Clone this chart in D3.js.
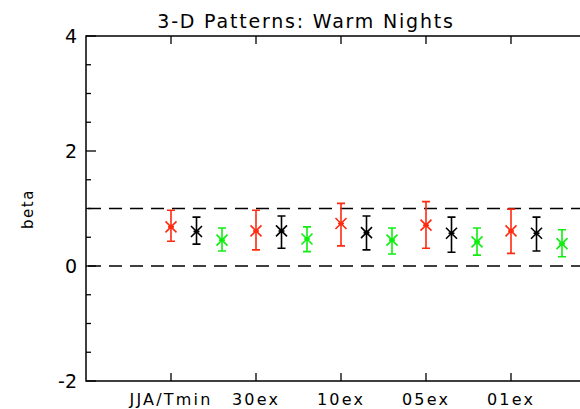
<!DOCTYPE html>
<meta charset="utf-8">
<script src="https://d3js.org/d3.v7.min.js"></script>
<style>
  body { margin: 0; background: #fff; }
  text { font-family: "DejaVu Sans", sans-serif; fill: #000; }
</style>
<svg id="chart" width="580" height="409"></svg>
<script>
  // categories along the bottom
  var groups = ["JJA/Tmin", "30ex", "10ex", "05ex", "01ex"];
  // three series per group (red, black, green), value with low/high bounds
  var redMid = [0.68, 0.61, 0.74, 0.71, 0.61];
  var redLo = [0.43, 0.28, 0.35, 0.31, 0.22];
  var redHi = [0.97, 0.97, 1.09, 1.12, 0.99];
  var blackMid = [0.60, 0.61, 0.58, 0.57, 0.57];
  var blackLo = [0.38, 0.31, 0.28, 0.24, 0.26];
  var blackHi = [0.85, 0.87, 0.87, 0.85, 0.85];
  var greenMid = [0.45, 0.47, 0.45, 0.42, 0.39];
  var greenLo = [0.26, 0.25, 0.21, 0.19, 0.16];
  var greenHi = [0.66, 0.68, 0.66, 0.66, 0.63];
  var yMajor = [-2, 0, 2, 4];
  var yMinor = [-1.5, -1, -0.5, 0.5, 1, 1.5, 2.5, 3, 3.5];
  var refLines = [0, 1];

  var svg = d3.select("#chart");
  var pLeft = 86, pTop = 36, pBottom = 381, pRight = 596;

  var x = d3.scaleLinear().domain([0, 6]).range([pLeft, pRight]);
  var y = d3.scaleLinear().domain([-2, 4]).range([pBottom, pTop]);

  // title
  svg.append("text")
    .attr("x", 306).attr("y", 28)
    .attr("text-anchor", "middle")
    .style("font-size", "19px")
    .style("letter-spacing", "1.8px")
    .text("3-D Patterns: Warm Nights");

  // y axis label
  svg.append("text")
    .attr("transform", "translate(33,209) rotate(-90)")
    .attr("text-anchor", "middle")
    .style("font-size", "15px")
    .style("letter-spacing", "1.5px")
    .text("beta");

  var g = svg.append("g");

  // dashed reference lines
  g.selectAll(".ref")
    .data(refLines)
    .enter()
    .append("line")
    .attr("x1", pLeft + 2).attr("x2", pRight)
    .attr("y1", d => y(d)).attr("y2", d => y(d))
    .attr("stroke", "#000")
    .attr("stroke-width", 1.5)
    .attr("stroke-dasharray", "13,8");

  // frame
  g.append("path")
    .attr("d", "M" + pRight + "," + pTop + "H" + pLeft + "V" + pBottom + "H" + pRight)
    .attr("fill", "none")
    .attr("stroke", "#000")
    .attr("stroke-width", 1.5);

  // y ticks
  g.selectAll(".ymaj")
    .data(yMajor)
    .enter()
    .append("line")
    .attr("x1", pLeft).attr("x2", pLeft + 10)
    .attr("y1", d => y(d)).attr("y2", d => y(d))
    .attr("stroke", "#000").attr("stroke-width", 1.3);
  g.selectAll(".ymin")
    .data(yMinor)
    .enter()
    .append("line")
    .attr("x1", pLeft).attr("x2", pLeft + 5)
    .attr("y1", d => y(d)).attr("y2", d => y(d))
    .attr("stroke", "#000").attr("stroke-width", 1.3);
  g.selectAll(".ylab")
    .data(yMajor)
    .enter()
    .append("text")
    .attr("x", pLeft - 9)
    .attr("y", d => y(d) + 7)
    .attr("text-anchor", "end")
    .style("font-size", "19px")
    .text(d => d);

  // x ticks top and bottom
  var gi = d3.range(groups.length);
  g.selectAll(".xtb")
    .data(gi)
    .enter()
    .append("line")
    .attr("x1", d => x(d + 1)).attr("x2", d => x(d + 1))
    .attr("y1", pBottom).attr("y2", pBottom - 8)
    .attr("stroke", "#000").attr("stroke-width", 1.3);
  g.selectAll(".xtt")
    .data(gi)
    .enter()
    .append("line")
    .attr("x1", d => x(d + 1)).attr("x2", d => x(d + 1))
    .attr("y1", pTop).attr("y2", pTop + 8)
    .attr("stroke", "#000").attr("stroke-width", 1.3);
  g.selectAll(".xlab")
    .data(groups)
    .enter()
    .append("text")
    .attr("x", (d, i) => x(i + 1))
    .attr("y", 405)
    .attr("text-anchor", "middle")
    .style("font-size", "16px")
    .style("letter-spacing", "2.2px")
    .text(d => d);

  // series
  var series = [
    { mid: redMid, lo: redLo, hi: redHi, off: 0, color: "#ff2a10" },
    { mid: blackMid, lo: blackLo, hi: blackHi, off: 0.3, color: "#000" },
    { mid: greenMid, lo: greenLo, hi: greenHi, off: 0.6, color: "#10ee10" }
  ];

  series.forEach(function (s) {
    var sg = g.append("g")
      .attr("stroke", s.color)
      .attr("stroke-width", 1.6)
      .attr("fill", "none");
    s.mid.forEach(function (v, i) {
      var cx = x(i + 1 + s.off);
      var p = d3.path();
      // error bar with caps
      p.moveTo(cx, y(s.lo[i])); p.lineTo(cx, y(s.hi[i]));
      p.moveTo(cx - 4, y(s.lo[i])); p.lineTo(cx + 4, y(s.lo[i]));
      p.moveTo(cx - 4, y(s.hi[i])); p.lineTo(cx + 4, y(s.hi[i]));
      // asterisk symbol
      var cy = y(v), r = 5.5;
      p.moveTo(cx - r, cy - r); p.lineTo(cx + r, cy + r);
      p.moveTo(cx - r, cy + r); p.lineTo(cx + r, cy - r);
      p.moveTo(cx - 3, cy); p.lineTo(cx + 3, cy);
      sg.append("path").attr("d", p.toString());
    });
  });
</script>
